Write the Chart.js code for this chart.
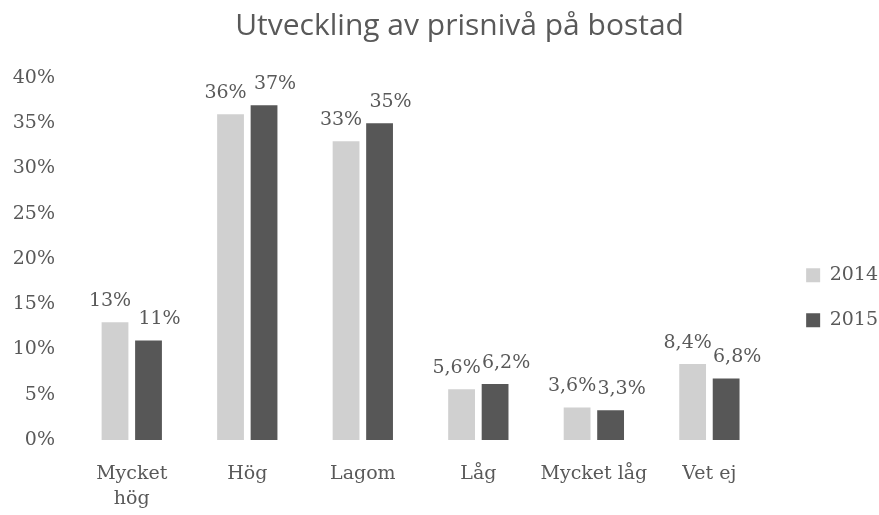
<!DOCTYPE html>
<html>
<head>
<meta charset="utf-8">
<script src="https://cdn.jsdelivr.net/npm/chart.js@4/dist/chart.umd.min.js"></script>
<style>
  html, body { margin: 0; padding: 0; background: #ffffff; }
  canvas { display: block; }
</style>
</head>
<body>
<canvas id="c" width="879" height="515"></canvas>
<script>
const titleText = "Utveckling av prisnivå på bostad";
const categories = [["Mycket", "hög"], "Hög", "Lagom", "Låg", "Mycket låg", "Vet ej"];
const seriesNames = ["2014", "2015"];
const values2014 = [13, 36, 33, 5.6, 3.6, 8.4];
const values2015 = [11, 37, 35, 6.2, 3.3, 6.8];
const yTicks = [0, 5, 10, 15, 20, 25, 30, 35, 40];

const TEXT = "#595959";
const SERIF = "'DejaVu Serif', 'Liberation Serif', serif";

function pct(v) {
  return String(v).replace(".", ",") + "%";
}

const valueLabels = {
  id: "valueLabels",
  afterDatasetsDraw(chart) {
    const ctx = chart.ctx;
    ctx.save();
    ctx.font = "19px " + SERIF;
    ctx.fillStyle = TEXT;
    ctx.textAlign = "center";
    ctx.textBaseline = "alphabetic";
    chart.data.datasets.forEach((ds, di) => {
      const meta = chart.getDatasetMeta(di);
      const shift = di === 0 ? -5 : 11;
      meta.data.forEach((bar, i) => {
        ctx.fillText(pct(ds.data[i]), bar.x + shift, bar.y - 16);
      });
    });
    ctx.restore();
  }
};

new Chart(document.getElementById("c"), {
  type: "bar",
  data: {
    labels: categories,
    datasets: [
      { label: seriesNames[0], data: values2014, backgroundColor: "#d0d0d0" },
      { label: seriesNames[1], data: values2015, backgroundColor: "#575757" }
    ]
  },
  options: {
    responsive: false,
    devicePixelRatio: 1,
    animation: false,
    categoryPercentage: 0.58,
    barPercentage: 0.8,
    layout: { padding: { left: 0, right: -9, top: 0, bottom: 0 } },
    plugins: {
      title: {
        display: true,
        text: "    " + titleText,
        color: TEXT,
        font: { family: "'Open Sans', sans-serif", size: 30, weight: "normal" },
        padding: { top: 8, bottom: 34 }
      },
      legend: {
        display: true,
        position: "right",
        align: "start",
        title: { display: true, text: " ", padding: { top: 217, bottom: 0 }, font: { size: 19 } },
        labels: {
          boxWidth: 14,
          boxHeight: 14,
          padding: 26,
          color: TEXT,
          font: { family: SERIF, size: 19 }
        }
      },
      tooltip: { enabled: false }
    },
    scales: {
      x: {
        grid: { display: false, drawTicks: false },
        border: { display: false },
        afterFit(scale) { scale.height = 75; },
        ticks: {
          color: TEXT,
          padding: 21,
          font: { family: SERIF, size: 19, lineHeight: 1.35 },
          maxRotation: 0,
          autoSkip: false
        }
      },
      y: {
        min: yTicks[0],
        max: yTicks[yTicks.length - 1],
        grid: { display: false, drawTicks: false },
        border: { display: false },
        afterFit(scale) { scale.width = 74; },
        afterBuildTicks(scale) {
          scale.ticks = yTicks.map(v => ({ value: v }));
        },
        ticks: {
          color: TEXT,
          padding: 19,
          font: { family: SERIF, size: 19 },
          callback: v => v + "%"
        }
      },
      gap: {
        position: "right",
        display: true,
        grid: { display: false, drawTicks: false },
        border: { display: false },
        ticks: { display: false },
        afterFit(scale) { scale.width = 13; }
      }
    }
  },
  plugins: [valueLabels]
});
</script>
</body>
</html>
